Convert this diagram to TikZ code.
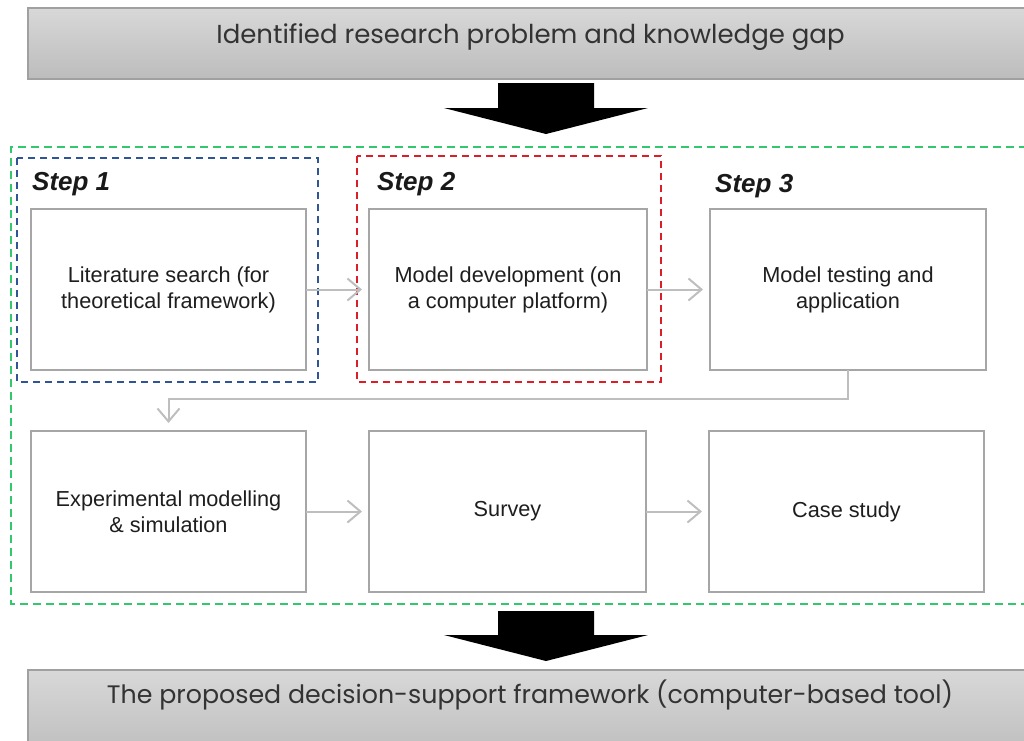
\documentclass[tikz,border=0pt]{standalone}
\usepackage{fontspec}
\setmainfont{Liberation Sans}
\newfontfamily\gothic{Poppins}
\usetikzlibrary{arrows.meta}
\definecolor{gframe}{RGB}{50,200,110}
\definecolor{bframe}{RGB}{47,85,151}
\definecolor{rframe}{RGB}{220,30,38}
\definecolor{boxgray}{RGB}{166,166,166}
\definecolor{conngray}{RGB}{190,190,190}
\definecolor{txt}{RGB}{30,30,30}
\definecolor{bandtop}{RGB}{216,216,216}
\definecolor{bandbot}{RGB}{188,188,188}
\definecolor{bandline}{RGB}{160,160,160}
\tikzset{
  stepbox/.style={draw=boxgray, line width=1.8pt, fill=white, rectangle,
    inner sep=0pt, outer sep=0pt, align=center, text=txt,
    font=\fontsize{21.7}{26}\selectfont},
  band/.style={draw=bandline, line width=1.4pt, rectangle, inner sep=0pt,
    outer sep=0pt, top color=bandtop, bottom color=bandbot},
  bandtext/.style={text=black!80, anchor=base, inner sep=0pt},
  steplabel/.style={font=\fontsize{26}{28}\selectfont\bfseries\itshape, text=black!90, anchor=base west, inner sep=0pt},
  conn/.style={draw=conngray, line width=2pt, -{Straight Barb[length=13pt,width=22pt,line width=2pt]}, shorten >=7pt},
  bigarrow/.style={fill=black},
  gdash/.style={draw=gframe, line width=2pt, dash pattern=on 8pt off 5pt},
  bdash/.style={draw=bframe, line width=1.6pt, dash pattern=on 7pt off 5pt},
  rdash/.style={draw=rframe, line width=1.6pt, dash pattern=on 7pt off 5pt},
}
\begin{document}
\begin{tikzpicture}[x=1pt,y=-1pt]
\useasboundingbox (0,0) rectangle (1024,740);

% top band
\node[band, minimum width=1012pt, minimum height=71pt] (top) at (534,43.5) {};
\node[bandtext, font=\gothic\fontsize{26}{30}\selectfont] (toptext) at (530.5,43) {Identified research problem and knowledge gap};

% bottom band
\node[band, minimum width=1012pt, minimum height=90pt] (bot) at (534,715) {};
\node[bandtext, font=\gothic\fontsize{25.3}{30}\selectfont] (bottext) at (530,703) {The proposed decision-support framework (computer-based tool)};

% big arrows
\fill[bigarrow] (498,83) -- (594,83) -- (594,108) -- (648,108) -- (546,134) -- (444,108) -- (498,108) -- cycle;
\fill[bigarrow] (498,611) -- (594,611) -- (594,635) -- (648,635) -- (546,661) -- (444,635) -- (498,635) -- cycle;

% frames
\draw[gdash] (1040,147) -- (11,147) -- (11,604) -- (1040,604);
\draw[bdash] (17,158) rectangle (318,382);
\draw[rdash] (357,156) rectangle (661,382);

% step labels
\node[steplabel] (s1) at (32,190) {Step 1};
\node[steplabel] (s2) at (377,190) {Step 2};
\node[steplabel] (s3) at (715,192) {Step 3};

% boxes row 1
\node[stepbox, minimum width=275pt, minimum height=161pt] (b1) at (168.5,289.5) {Literature search (for\\theoretical framework)};
\node[stepbox, minimum width=278pt, minimum height=161pt] (b2) at (508,289.5) {Model development (on\\a computer platform)};
\node[stepbox, minimum width=276pt, minimum height=161pt] (b3) at (848,289.5) {Model testing and\\application};
% boxes row 2
\node[stepbox, minimum width=275pt, minimum height=161pt] (b4) at (168.5,511.5) {Experimental modelling\\\& simulation};
\node[stepbox, minimum width=277pt, minimum height=161pt] (b5) at (507.5,511.5) {Survey};
\node[stepbox, minimum width=275pt, minimum height=161pt] (b6) at (846.5,511.5) {Case study};

% connectors
\draw[conn] (b1) -- (b2);
\draw[conn] (b2) -- (b3);
\draw[conn, shorten >=8pt] (b3.south) -- ++(0,29) -| (b4.north);
\draw[conn] (b4) -- (b5);
\draw[conn] (b5) -- (b6);
\end{tikzpicture}
\end{document}
